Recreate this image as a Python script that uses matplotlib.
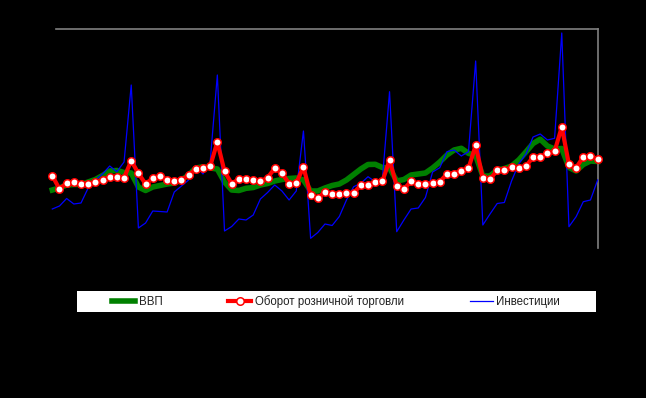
import numpy as np
import matplotlib
matplotlib.use("Agg")
import matplotlib.pyplot as plt
from matplotlib.patches import Rectangle

plt.rcParams["font.family"] = ["Liberation Sans", "DejaVu Sans"]

# помесячные значения (условный индекс)
gdp = [58, 60, 63, 63.5, 63.5, 66, 68.5, 72.5, 77, 77.5, 75.5, 75,
       61, 57.5, 61, 62.5, 64, 65, 68, 73, 80, 81.3, 80, 79,
       66, 58, 57.5, 59.7, 60.5, 63, 64.5, 67, 68.5, 69.5, 70, 68,
       57, 57, 60, 62.5, 64, 68, 73.5, 79, 83.5, 83.7, 80.5, 80,
       67, 68.5, 73, 74, 75, 80, 86, 93, 98, 99.7, 94.7, 92.5,
       72, 72, 78, 79.5, 82, 88, 96, 104.5, 108.8, 102, 99, 99.5,
       80.5, 77, 83.5, 87, 86.5]
retail = [72.3, 59, 65, 66.3, 64, 64.3, 65.7, 68, 71, 71, 70.3, 87.3,
          74.7, 64, 70, 72, 68.3, 66.7, 67.7, 73, 79, 80, 81.7, 106,
          76.7, 64.3, 69, 69, 67.7, 66.7, 70.3, 79.7, 75, 64.3, 65, 81,
          53, 49.7, 56.3, 54, 54, 55.3, 55, 63, 63, 66, 66.7, 88,
          62, 59, 66.7, 64.3, 63.8, 65, 66.3, 74, 74.3, 77.3, 79.7, 102.7,
          70, 68.7, 77.7, 77.7, 80.7, 80.3, 82, 90.7, 90.7, 95, 96.7, 121,
          83.7, 80.3, 91, 92.3, 88.7]
invest = [39, 42, 49.5, 44, 45, 60, 68, 74, 82, 76.3, 86, 163,
          20, 25, 37, 36.5, 36, 56, 62, 68, 82.5, 74, 86, 173,
          17, 21.5, 29, 28, 33, 49, 55.5, 63, 57, 48, 57, 117,
          9.7, 15.5, 24, 22.5, 31.5, 48, 61.3, 64.7, 71.3, 66.3, 68.7, 156.3,
          16.3, 28, 39, 40, 50.5, 76, 80.3, 96.3, 98, 92, 96.3, 187,
          23, 34, 44.5, 45.5, 67, 84, 94, 111, 114, 108, 109.7, 215,
          21.3, 31.3, 46.3, 48, 68]
labels = ["ВВП", "Оборот розничной торговли", "Инвестиции"]

x = np.arange(len(gdp))

fig = plt.figure(figsize=(6.46, 3.98), dpi=100, facecolor="black")
ax = fig.add_axes([56 / 646, 1 - 248 / 398, 542 / 646, 219 / 398], facecolor="black")

ax.plot(x, gdp, color="#008000", lw=4, zorder=2, clip_on=False, label=labels[0])
ax.plot(x, invest, color="#0000ff", lw=0.9, zorder=3, clip_on=False, label=labels[2])
ax.plot(x, retail, color="#ff0000", lw=3, marker="o", ms=5.4, mfc="white",
        mec="#ff0000", mew=1.1, zorder=4, clip_on=False, label=labels[1])

ax.set_xlim(0.516, 76.05)
ax.set_ylim(0, 219)
ax.set_xticks([])
ax.set_yticks([])
for s in ["left", "bottom"]:
    ax.spines[s].set_visible(False)
for s in ["top", "right"]:
    ax.spines[s].set_color("#808080")
    ax.spines[s].set_linewidth(1.2)

# белая подложка легенды
fig.patches.append(Rectangle((77 / 646, 1 - 312 / 398), 519 / 646, 21 / 398,
                             transform=fig.transFigure, facecolor="white",
                             edgecolor="none", zorder=0))
h, l = ax.get_legend_handles_labels()
order = [0, 2, 1]
leg = fig.legend([h[i] for i in order], [l[i] for i in order], ncol=3,
                 loc="lower left", mode="expand",
                 bbox_to_anchor=(108 / 646, 1 - 312 / 398, 456 / 646, 21 / 398),
                 frameon=False, fontsize=8.3, handlelength=2.0, handletextpad=0.3,
                 borderpad=0.35, borderaxespad=0)
for t in leg.get_texts():
    t.set_color("#222222")

fig.savefig("out.png", dpi=100, facecolor="black")
